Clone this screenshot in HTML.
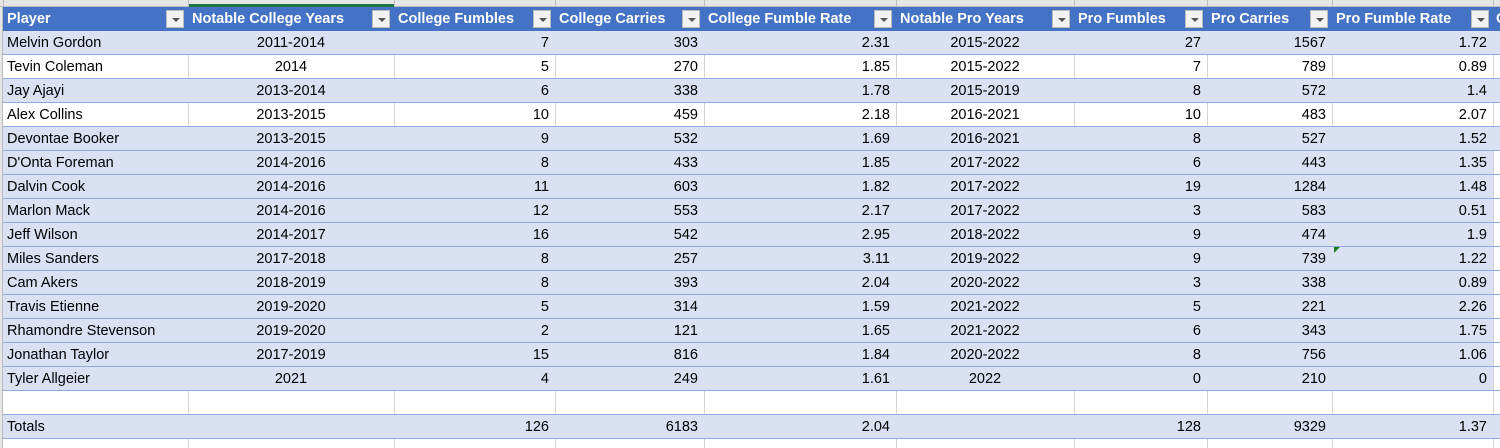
<!DOCTYPE html>
<html><head><meta charset="utf-8"><style>
html,body{margin:0;width:1500px;height:448px;overflow:hidden}
body{background:#fff;font-family:"Liberation Sans",sans-serif;position:relative}
.c{position:absolute;box-sizing:border-box;font-size:14.5px;line-height:25px;height:24px;padding:0 4px;white-space:nowrap;overflow:hidden;color:#000}
.h{color:#fff;font-weight:bold;background:#4472C4;height:24px}
.fb{position:absolute;width:18px;height:18px;background:#f3f3f3;border:1px solid #bbb;box-sizing:border-box}
.fb:after{content:"";position:absolute;left:4.5px;top:7px;border-left:4px solid transparent;border-right:4px solid transparent;border-top:4px solid #555}
.row{position:absolute;left:0;height:24px;box-sizing:border-box;border-bottom:1px solid #8EA9DB}
.vl{position:absolute;width:1px;background:#d4d4d4}
</style></head><body>
<div id="top" style="position:absolute;left:0;top:0;width:1500px;height:7px;background:#e6e6e6;border-bottom:1px solid #bdbdbd;box-sizing:border-box"></div>
<div style="position:absolute;left:188px;top:4px;width:206px;height:3px;background:#217346"></div>
<div id="sheet"></div>
<script>
const headers=["Player","Notable College Years","College Fumbles","College Carries","College Fumble Rate","Notable Pro Years","Pro Fumbles","Pro Carries","Pro Fumble Rate"];
const players=["Melvin Gordon","Tevin Coleman","Jay Ajayi","Alex Collins","Devontae Booker","D'Onta Foreman","Dalvin Cook","Marlon Mack","Jeff Wilson","Miles Sanders","Cam Akers","Travis Etienne","Rhamondre Stevenson","Jonathan Taylor","Tyler Allgeier"];
const collegeYears=["2011-2014","2014","2013-2014","2013-2015","2013-2015","2014-2016","2014-2016","2014-2016","2014-2017","2017-2018","2018-2019","2019-2020","2019-2020","2017-2019","2021"];
const collegeFumbles=[7,5,6,10,9,8,11,12,16,8,8,5,2,15,4];
const collegeCarries=[303,270,338,459,532,433,603,553,542,257,393,314,121,816,249];
const collegeRate=["2.31","1.85","1.78","2.18","1.69","1.85","1.82","2.17","2.95","3.11","2.04","1.59","1.65","1.84","1.61"];
const proYears=["2015-2022","2015-2022","2015-2019","2016-2021","2016-2021","2017-2022","2017-2022","2017-2022","2018-2022","2019-2022","2020-2022","2021-2022","2021-2022","2020-2022","2022"];
const proFumbles=[27,7,8,10,8,6,19,3,9,9,3,5,6,8,0];
const proCarries=[1567,789,572,483,527,443,1284,583,474,739,338,221,343,756,210];
const proRate=["1.72","0.89","1.4","2.07","1.52","1.35","1.48","0.51","1.9","1.22","0.89","2.26","1.75","1.06","0"];
const totals=["Totals","","126","6183","2.04","","128","9329","1.37"];
const xs=[3,188,394,555,704,896,1074,1207,1332,1493];
const align=["left","center","right","right","right","center","right","right","right"];
const S=document.getElementById('sheet');
function add(tag,cls,style,txt){const e=document.createElement(tag);e.className=cls;e.style.cssText=style;if(txt!==undefined)e.textContent=txt;S.appendChild(e);return e;}
const hb=add('div','row',"top:7px;width:1500px;background:#4472C4;border-bottom:none;left:3px");


for(let i=0;i<xs.length;i++){const v=add('div','vl',`left:${xs[i]}px;top:0;height:7px;background:#bdbdbd`);}
const rowTop=i=>31+i*24;
function rowBg(i){ if(i<5) return i%2===0?'full':'none'; return 'table'; }
const allRows=[];
for(let i=0;i<players.length;i++)allRows.push([players[i],collegeYears[i],String(collegeFumbles[i]),String(collegeCarries[i]),collegeRate[i],proYears[i],String(proFumbles[i]),String(proCarries[i]),proRate[i]]);
function drawRow(vals,top,bg,name){
  const r=add('div','row',`top:${top}px;left:3px;width:1497px;background:${bg==='full'?'#D9E1F2':'#fff'}`);
  
  
  if(bg==='table'){const b=add('div','',`position:absolute;left:3px;top:${top}px;width:1490px;height:23px;background:#D9E1F2`);}
  if(bg!=='full'&&bg!=='table'){for(let k=1;k<xs.length;k++){const v=add('div','vl',`left:${xs[k]}px;top:${top}px;height:23px`);}}
  else if(bg==='table'){const v=add('div','vl',`left:1493px;top:${top}px;height:23px`);}
  vals.forEach((t,k)=>{const c=add('div','c',`left:${xs[k]}px;top:${top}px;width:${xs[k+1]-xs[k]-(align[k]==='right'?2:0)}px;text-align:${align[k]}`,t);});
}
allRows.forEach((v,i)=>drawRow(v,rowTop(i),rowBg(i),'player-row'));
drawRow(["","","","","","","","",""],rowTop(15),'none','blank-row');
drawRow(["","","","","","","","",""],rowTop(16),'full','totals-row-bg');
drawRow(["","","","","","","","",""],rowTop(17),'none','empty-row');
// totals text on top
totals.forEach((t,k)=>{const c=add('div','c',`left:${xs[k]}px;top:${rowTop(16)}px;width:${xs[k+1]-xs[k]-(align[k]==='right'?2:0)}px;text-align:${align[k]}`,t);});
const lh=add('div','',"position:absolute;left:0;top:7px;width:3px;height:441px;background:#e6e6e6;border-right:1px solid #bdbdbd;box-sizing:border-box");


headers.forEach((t,k)=>{const c=add('div','c h',`left:${xs[k]}px;top:7px;width:${xs[k+1]-xs[k]}px;text-align:left`,t);
  const f=add('div','fb',`left:${xs[k+1]-22}px;top:10px`);});
const nx=add('div','c h',"left:1494px;top:7px;width:6px;padding:0 2px","C");


const m=add('div','',"position:absolute;left:1334px;top:247px;width:0;height:0;border-top:6px solid #1a7f1a;border-right:6px solid transparent");


</script>
</body></html>
